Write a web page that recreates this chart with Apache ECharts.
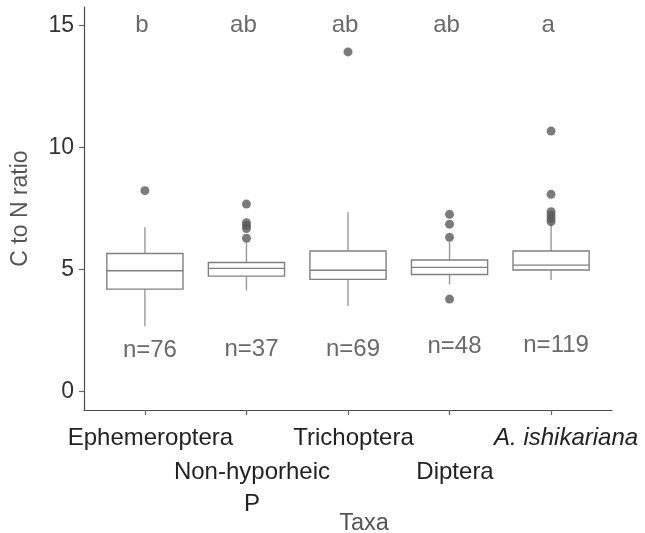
<!DOCTYPE html>
<html>
<head>
<meta charset="utf-8">
<script src="https://cdn.jsdelivr.net/npm/echarts@6/dist/echarts.min.js"></script>
<style>
html,body{margin:0;padding:0;background:#fff;}
#chart{width:645px;height:533px;}
</style>
</head>
<body>
<div id="chart"></div>
<script>
// ---- data ----
const categories = ['Ephemeroptera', 'Non-hyporheic\nP', 'Trichoptera', 'Diptera', 'A. ishikariana'];
// [whisker low, Q1, median, Q3, whisker high]
const boxStats = [
  [2.68, 4.20, 4.95, 5.66, 6.73],
  [4.15, 4.73, 5.05, 5.29, 6.10],
  [3.51, 4.60, 4.97, 5.76, 7.35],
  [4.39, 4.80, 5.09, 5.39, 6.14],
  [4.57, 4.98, 5.18, 5.76, 6.89]
];
const outliers = [
  [8.23],
  [7.68, 6.92, 6.80, 6.68, 6.28],
  [13.91],
  [7.26, 6.86, 6.32, 3.79],
  [10.67, 8.08, 7.37, 7.23, 7.09, 6.96]
];
const letters = ['b', 'ab', 'ab', 'ab', 'a'];
const letterY = 15;
const nLabels = ['n=76', 'n=37', 'n=69', 'n=48', 'n=119'];
const nY = [1.68, 1.75, 1.75, 1.84, 1.88];
const yTicks = [0, 5, 10, 15];

// ---- build ----
const positions = categories.map((c, i) => i + 1);
const row1 = positions.filter((p, i) => i % 2 === 0);
const row2 = positions.filter((p, i) => i % 2 === 1);
const boxData = boxStats.map((s, i) => [positions[i]].concat(s));
const outlierData = [];
outliers.forEach((arr, i) => arr.forEach(v => outlierData.push([positions[i], v])));
const letterData = letters.map((t, i) => ({ value: [positions[i], letterY], name: t }));
const nData = nLabels.map((t, i) => ({ value: [positions[i], nY[i]], name: t }));

function catLabel(v) {
  const i = Math.round(v) - 1;
  const name = categories[i];
  if (name === undefined) return '';
  const style = name.startsWith('A. ') ? 'i' : 't';
  return name.split('\n').map(l => '{' + style + '|' + l + '}').join('\n');
}

const FONT = '"Liberation Sans", Arial, Helvetica, sans-serif';
const richStyles = {
  t: { fontSize: 24, lineHeight: 32, color: '#222222', fontFamily: FONT, padding: [0, 0, 0, 11] },
  i: { fontSize: 24, lineHeight: 32, color: '#222222', fontFamily: FONT, fontStyle: 'italic', padding: [0, 0, 0, 30] }
};
const gridBox = { left: 84, right: 33, top: 7, bottom: 123, containLabel: false, outerBoundsMode: 'none' };
const chart = echarts.init(document.getElementById('chart'), null, { renderer: 'canvas' });

chart.setOption({
  backgroundColor: '#ffffff',
  animation: false,
  textStyle: { fontFamily: FONT },
  grid: [Object.assign({}, gridBox), Object.assign({}, gridBox)],
  xAxis: [{
    gridIndex: 0,
    type: 'value',
    min: 0.4,
    max: 5.6,
    name: 'Taxa',
    nameLocation: 'middle',
    nameGap: 102,
    nameTextStyle: { fontSize: 23.5, color: '#555555', fontFamily: FONT, padding: [0, 0, 0, 32] },
    axisLine: { show: true, onZero: false, lineStyle: { color: '#4d4d4d', width: 1.2 } },
    axisTick: { show: true, customValues: positions, length: 5, lineStyle: { color: '#666666', width: 1.2 } },
    splitLine: { show: false },
    axisLabel: {
      customValues: row1,
      showMinLabel: true,
      showMaxLabel: true,
      hideOverlap: false,
      margin: 12,
      formatter: catLabel,
      color: '#222222',
      fontSize: 24,
      lineHeight: 32,
      fontFamily: FONT,
      rich: richStyles
    }
  }, {
    gridIndex: 1,
    type: 'value',
    min: 0.4,
    max: 5.6,
    axisLine: { show: false, onZero: false },
    axisTick: { show: true, customValues: row2, length: 5, lineStyle: { color: '#666666', width: 1.2 } },
    splitLine: { show: false },
    axisLabel: {
      customValues: row2,
      showMinLabel: true,
      showMaxLabel: true,
      hideOverlap: false,
      margin: 46,
      formatter: catLabel,
      color: '#222222',
      fontSize: 24,
      lineHeight: 32,
      fontFamily: FONT,
      rich: richStyles
    }
  }],
  yAxis: [{
    gridIndex: 0,
    type: 'value',
    min: -0.75,
    max: 15.75,
    name: 'C to N ratio',
    nameLocation: 'middle',
    nameRotate: 90,
    nameGap: 52,
    nameTextStyle: { fontSize: 23, color: '#555555', fontFamily: FONT },
    axisLine: { show: true, onZero: false, lineStyle: { color: '#4d4d4d', width: 1.2 } },
    axisTick: { show: true, customValues: yTicks, length: 5, lineStyle: { color: '#666666', width: 1.2 } },
    splitLine: { show: false },
    axisLabel: { customValues: yTicks, showMinLabel: true, showMaxLabel: true, margin: 10, fontSize: 23, color: '#333333', fontFamily: FONT }
  }, {
    gridIndex: 1,
    type: 'value',
    min: -0.75,
    max: 15.75,
    show: false
  }],
  series: [
    {
      type: 'custom',
      xAxisIndex: 0,
      yAxisIndex: 0,
      data: boxData,
      encode: { x: 0, y: [1, 2, 3, 4, 5] },
      renderItem: function (params, api) {
        const x = api.value(0);
        const lo = api.coord([x, api.value(1)]);
        const q1 = api.coord([x, api.value(2)]);
        const md = api.coord([x, api.value(3)]);
        const q3 = api.coord([x, api.value(4)]);
        const hi = api.coord([x, api.value(5)]);
        const w = api.size([0.75, 0])[0];
        const cx = lo[0];
        const whiskStroke = { stroke: '#999999', lineWidth: 1.4 };
        return {
          type: 'group',
          children: [
            { type: 'line', shape: { x1: cx, y1: hi[1], x2: cx, y2: q3[1] }, style: whiskStroke },
            { type: 'line', shape: { x1: cx, y1: q1[1], x2: cx, y2: lo[1] }, style: whiskStroke },
            { type: 'rect', shape: { x: cx - w / 2, y: q3[1], width: w, height: q1[1] - q3[1] }, style: { fill: '#ffffff', stroke: '#808080', lineWidth: 1.4 } },
            { type: 'line', shape: { x1: cx - w / 2, y1: md[1], x2: cx + w / 2, y2: md[1] }, style: { stroke: '#808080', lineWidth: 1.4 } }
          ]
        };
      },
      z: 2
    },
    {
      type: 'scatter',
      xAxisIndex: 0,
      yAxisIndex: 0,
      data: outlierData,
      symbol: 'circle',
      symbolSize: 9,
      itemStyle: { color: '#5a5a5a' },
      z: 3
    },
    {
      type: 'scatter',
      xAxisIndex: 0,
      yAxisIndex: 0,
      data: letterData,
      symbolSize: 1,
      itemStyle: { color: 'rgba(0,0,0,0)' },
      label: { show: true, position: 'inside', formatter: p => p.name, fontSize: 24, color: '#444444', fontFamily: FONT, offset: [-3, 0] },
      z: 4
    },
    {
      type: 'scatter',
      xAxisIndex: 0,
      yAxisIndex: 0,
      data: nData,
      symbolSize: 1,
      itemStyle: { color: 'rgba(0,0,0,0)' },
      label: { show: true, position: 'inside', formatter: p => p.name, fontSize: 24, color: '#444444', fontFamily: FONT, offset: [5, 0] },
      z: 4
    }
  ]
});
</script>
</body>
</html>
